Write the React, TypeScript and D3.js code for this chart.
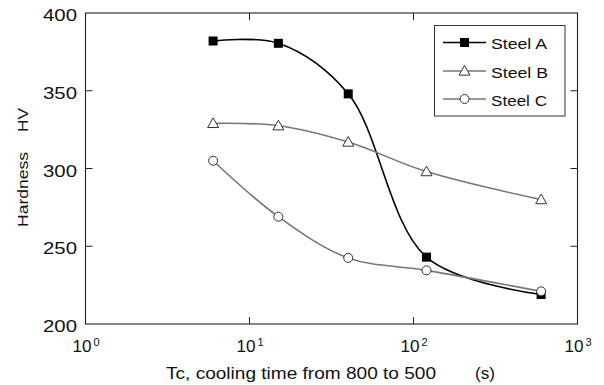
import * as d3 from 'd3';

// cooling time Tc (s)
const coolingTimes = [6, 15, 40, 120, 600];
const steelA = [382, 380.5, 348, 243, 219];
const steelB = [329, 327.5, 317, 298, 280];
const steelC = [305, 269, 242.5, 234.5, 221];

const seriesNames = ['Steel A', 'Steel B', 'Steel C'];
const yTicks = [200, 250, 300, 350, 400];
const xTicks = [1, 10, 100, 1000];
const xTickExp = ['0', '1', '2', '3'];

const W = 604;
const H = 385;
const margin = { top: 13, right: 26.5, bottom: 61, left: 85.5 };
const font = 'Arial, "Liberation Sans", sans-serif';

const App = () => {
    const innerW = W - margin.left - margin.right;
    const innerH = H - margin.top - margin.bottom;

    const xScale = d3.scaleLog().domain([1, 1000]).range([0, innerW]);
    const yScale = d3.scaleLinear().domain([200, 400]).range([innerH, 0]);

    const line = d3.line<[number, number]>()
        .x(d => xScale(d[0]))
        .y(d => yScale(d[1]))
        .curve(d3.curveCatmullRom.alpha(0.5));

    const series = [
        { name: seriesNames[0], values: steelA, color: '#000', marker: 'square', legendLen: 56 },
        { name: seriesNames[1], values: steelB, color: '#777', marker: 'triangle', legendLen: 57 },
        { name: seriesNames[2], values: steelC, color: '#777', marker: 'circle', legendLen: 56 },
    ];

    function marker(type: string, cx: number, cy: number, key: any) {
        if (type === 'square') {
            return <rect key={key} x={cx - 4.5} y={cy - 4.5} width={9} height={9} fill="#000" />;
        }
        if (type === 'triangle') {
            const s = 5.5;
            const pts = `${cx},${cy - s} ${cx - s},${cy + s * 0.75} ${cx + s},${cy + s * 0.75}`;
            return <polygon key={key} points={pts} fill="#fff" stroke="#333" strokeWidth={1} />;
        }
        return <circle key={key} cx={cx} cy={cy} r={4.5} fill="#fff" stroke="#333" strokeWidth={1} />;
    }

    const tickLen = 7;
    const legendRows = [42.5, 71, 99];

    return (
        <svg width={W} height={H} style={{ position: 'absolute', left: 0, top: 0, background: '#fff' }}
            fontFamily={font}>
            <g transform={`translate(${margin.left},${margin.top})`}>
                {/* frame */}
                <rect x={0} y={0} width={innerW} height={innerH} fill="none" stroke="#222" strokeWidth={1.1} />

                {/* y ticks */}
                {yTicks.map(t => (
                    <g key={'y' + t}>
                        {t > 200 && t < 400 && (
                            <>
                                <line x1={0} x2={tickLen} y1={yScale(t)} y2={yScale(t)} stroke="#222" />
                                <line x1={innerW} x2={innerW - tickLen} y1={yScale(t)} y2={yScale(t)} stroke="#222" />
                            </>
                        )}
                        <text x={-42.5} y={yScale(t) + 8} textLength={34} lengthAdjust="spacingAndGlyphs"
                            fontSize={16.5} fill="#111">{t}</text>
                    </g>
                ))}

                {/* x ticks */}
                {xTicks.map((t, i) => (
                    <g key={'x' + t}>
                        {i > 0 && i < xTicks.length - 1 && (
                            <>
                                <line x1={xScale(t)} x2={xScale(t)} y1={innerH} y2={innerH - tickLen} stroke="#222" />
                                <line x1={xScale(t)} x2={xScale(t)} y1={0} y2={tickLen} stroke="#222" />
                            </>
                        )}
                        <text x={xScale(t) - 13} y={innerH + 28} textLength={19} lengthAdjust="spacingAndGlyphs"
                            fontSize={16.5} fill="#111">10</text>
                        <text x={xScale(t) + 8} y={innerH + 22} fontSize={11} fill="#111">{xTickExp[i]}</text>
                    </g>
                ))}

                {/* lines */}
                {series.map(s => {
                    const pts = coolingTimes.map((t, i) => [t, s.values[i]] as [number, number]);
                    return (
                        <g key={s.name}>
                            <path d={line(pts) || ''} fill="none" stroke={s.color} strokeWidth={1.6} />
                            {pts.map((p, i) => marker(s.marker, xScale(p[0]), yScale(p[1]), i))}
                        </g>
                    );
                })}
            </g>

            {/* legend */}
            <rect x={434.5} y={25.5} width={130.5} height={90.5} fill="#fff" stroke="#333" strokeWidth={1} />
            {series.map((s, i) => (
                <g key={'lg' + s.name}>
                    <line x1={443} x2={486} y1={legendRows[i]} y2={legendRows[i]} stroke={s.color} strokeWidth={1.6} />
                    {marker(s.marker, 464.5, legendRows[i], 'm')}
                    <text x={491} y={legendRows[i] + 6.5} textLength={s.legendLen} lengthAdjust="spacingAndGlyphs"
                        fontSize={14.5} fill="#111">{s.name}</text>
                </g>
            ))}

            {/* axis titles */}
            <text x={166} y={379} fontSize={16.5} fill="#111" textLength={270}
                lengthAdjust="spacingAndGlyphs">Tc, cooling time from 800 to 500</text>
            <text x={475} y={379} fontSize={16.5} fill="#111" textLength={20}
                lengthAdjust="spacingAndGlyphs">(s)</text>
            <text transform="translate(28,227) rotate(-90)" fontSize={15.5} fill="#111" textLength={75}
                lengthAdjust="spacingAndGlyphs">Hardness</text>
            <text transform="translate(28,132) rotate(-90)" fontSize={15.5} fill="#111" textLength={24}
                lengthAdjust="spacingAndGlyphs">HV</text>
        </svg>
    );
};

export default App;
